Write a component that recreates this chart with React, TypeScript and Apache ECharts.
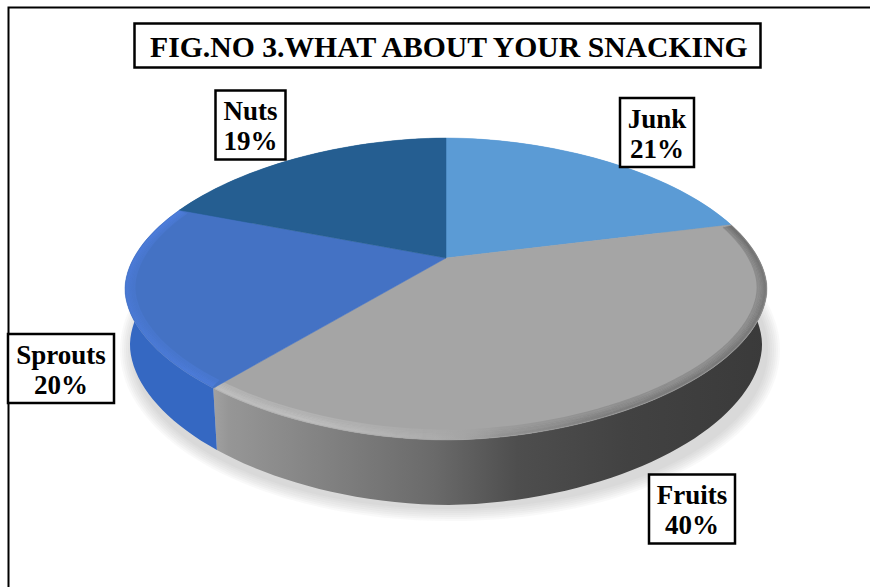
import React, { useEffect, useRef } from "react";
import * as echarts from "echarts";

const titleText = "FIG.NO 3.WHAT ABOUT YOUR SNACKING";
const categories = ["Junk", "Fruits", "Sprouts", "Nuts"];
const shares = [21, 40, 20, 19];
const faceColors = ["#5b9bd5", "#a5a5a5", "#4472c4", "#255e91"];

// Callout boxes in page pixels, one per category: [left, top, width, height]
const calloutBoxes = [
  [620, 98, 74, 69],
  [649, 474.5, 86, 69],
  [8, 334, 106, 69],
  [215.5, 90.5, 70, 69],
];

// Perspective of the disc: w = 1 - k * v for a point (u, v) on the unit circle
const K = 0.2053;
const CX = 446;
const TOP_PLANE = { X: 314.2, Y: 144.6, y0: 258 };
const BOTTOM_PLANE = { X: 309.3, Y: 153.3, y0: 312 };
// The rounded rim is slightly tighter than a true ellipse along its diagonals
const RIM_EXPONENT = 1.88;
const SERIF = '"Liberation Serif", "Times New Roman", serif';

type Plane = { X: number; Y: number; y0: number };

function project(deg: number, plane: Plane, inset = 0): number[] {
  const a = (deg * Math.PI) / 180;
  const X = plane.X - inset;
  const Y = plane.Y - inset * 0.8;
  const u = Math.sin(a);
  const v = -Math.cos(a);
  const w = 1 - K * v;
  const px = (X * u) / w;
  const py = (Y * v) / w;
  // Outline ellipse of the projected circle, used to pull the rim in
  const rx = X / Math.sqrt(1 - K * K);
  const ry = Y / (1 - K * K);
  const midY = (Y * K) / (1 - K * K);
  const nx = px / rx;
  const ny = (py - midY) / ry;
  const len = Math.hypot(nx, ny) || 1;
  const f = Math.pow(Math.pow(Math.abs(nx / len), RIM_EXPONENT) + Math.pow(Math.abs(ny / len), RIM_EXPONENT), -1 / RIM_EXPONENT);
  return [CX + rx * nx * f, plane.y0 + midY + ry * ny * f];
}

function arcPoints(from: number, to: number, plane: Plane, inset = 0): number[][] {
  const steps = Math.max(2, Math.ceil((to - from) / 2));
  const pts: number[][] = [];
  for (let i = 0; i <= steps; i++) pts.push(project(from + ((to - from) * i) / steps, plane, inset));
  return pts;
}

// Clockwise from twelve o'clock, in degrees, derived from the shares
function sliceAngles(index: number): [number, number] {
  const total = shares.reduce((s, v) => s + v, 0);
  const before = shares.slice(0, index).reduce((s, v) => s + v, 0);
  return [(before / total) * 360, ((before + shares[index]) / total) * 360];
}

const hGrad = (stops: [number, string][], x0: number, x1: number) =>
  new echarts.graphic.LinearGradient(
    x0, 0, x1, 0,
    stops.map(([offset, color]) => ({ offset, color })),
    true
  );

const wallFills = [
  () => "#5b9bd5",
  () =>
    hGrad(
      [
        [0, "#a2a2a2"],
        [0.03, "#969696"],
        [0.15, "#888888"],
        [0.4, "#6a6a6a"],
        [0.55, "#4e4e4e"],
        [0.75, "#424242"],
        [1, "#3a3a3a"],
      ],
      212,
      767
    ),
  () => "#3568c2",
  () => "#255e91",
];

function renderWall(params: any) {
  const [from, to] = sliceAngles(params.dataIndex);
  const upper = arcPoints(from, to, TOP_PLANE);
  const lower = arcPoints(from, to, BOTTOM_PLANE).reverse();
  return {
    type: "polygon",
    shape: { points: upper.concat(lower) },
    style: { fill: wallFills[params.dataIndex]() },
  };
}

// Bevel along the front rim: light on the left, dark towards the right.
// Each stroke adds a thin veil, so the band fades out towards the middle of the disc.
const rimStrokes: Record<number, () => any> = {
  1: () =>
    hGrad(
      [
        [0, "rgba(255,255,255,0.15)"],
        [0.2, "rgba(255,255,255,0.14)"],
        [0.4, "rgba(255,255,255,0.04)"],
        [0.52, "rgba(40,40,40,0.07)"],
        [0.68, "rgba(40,40,40,0.16)"],
        [1, "rgba(40,40,40,0.2)"],
      ],
      212,
      767
    ),
  2: () =>
    hGrad(
      [
        [0, "rgba(90,140,255,0.14)"],
        [1, "rgba(90,140,255,0.18)"],
      ],
      124,
      212
    ),
};

function renderFace(params: any) {
  const i = params.dataIndex;
  const [from, to] = sliceAngles(i);
  const apex = [CX, TOP_PLANE.y0];
  const children: any[] = [
    {
      type: "polygon",
      shape: { points: [apex].concat(arcPoints(from, to, TOP_PLANE)) },
      style: { fill: faceColors[i], stroke: faceColors[i], lineWidth: 0.5 },
    },
  ];
  const rimStroke = rimStrokes[i];
  if (rimStroke) {
    // insets in pixels, so the veils pile up at the very edge
    for (const inset of [0.8, 1.6, 2.4, 3.2, 4.2, 5.2, 6.4, 7.8, 9.4]) {
      children.push({
        type: "polyline",
        shape: { points: arcPoints(from + 0.3, to - 0.3, TOP_PLANE, inset) },
        style: { fill: null, stroke: rimStroke(), lineWidth: 1.6 },
      });
    }
  }
  return { type: "group", children };
}

function renderCallout(params: any, api: any) {
  const i = params.dataIndex;
  const [x, y, width, height] = calloutBoxes[i];
  return {
    type: "group",
    children: [
      {
        type: "rect",
        shape: { x, y, width, height },
        style: { fill: "#ffffff", stroke: "#000000", lineWidth: 2.5 },
      },
      {
        type: "text",
        x: x + width / 2,
        y: y + height / 2 + 1,
        style: {
          text: `${categories[i]}\n${api.value(0)}%`,
          fill: "#000000",
          font: `bold 27px ${SERIF}`,
          lineHeight: 30,
          align: "center",
          verticalAlign: "middle",
        },
      },
    ],
  };
}

// Soft shadow under the disc, built from stacked translucent ellipses
const shadowVeils = [14, 12, 10, 8, 6, 4, 2].map((grow) => ({
  type: "ellipse",
  z: 0,
  shape: { cx: 450, cy: 350, rx: 316 + grow, ry: 157 + grow },
  style: { fill: "rgba(150,150,150,0.055)" },
}));

export default function App() {
  const ref = useRef<HTMLDivElement>(null);

  useEffect(() => {
    document.body.style.margin = "0";
    const chart = echarts.init(ref.current!, null, { renderer: "svg" });
    const data = shares.map((v, i) => ({ name: categories[i], value: [v] }));
    chart.setOption({
      animation: false,
      backgroundColor: "#ffffff",
      title: {
        text: titleText,
        left: 134,
        top: 23,
        padding: [9, 9, 6, 16],
        borderColor: "#000000",
        borderWidth: 2.5,
        textStyle: { fontFamily: SERIF, fontWeight: "bold", fontSize: 29.7, color: "#000000", lineHeight: 30 },
      },
      graphic: [
        {
          type: "polyline",
          z: 0,
          shape: { points: [[8.5, 587], [8.5, 7.5], [870, 7.5]] },
          style: { fill: null, stroke: "#000000", lineWidth: 2 },
        },
        ...shadowVeils,
      ],
      series: [
        { type: "custom", name: "wall", coordinateSystem: "none", z: 2, data, renderItem: renderWall },
        { type: "custom", name: "face", coordinateSystem: "none", z: 3, data, renderItem: renderFace },
        { type: "custom", name: "callout", coordinateSystem: "none", z: 4, data, renderItem: renderCallout },
      ],
    });
    return () => chart.dispose();
  }, []);

  return <div ref={ref} style={{ width: 870, height: 587 }} />;
}
